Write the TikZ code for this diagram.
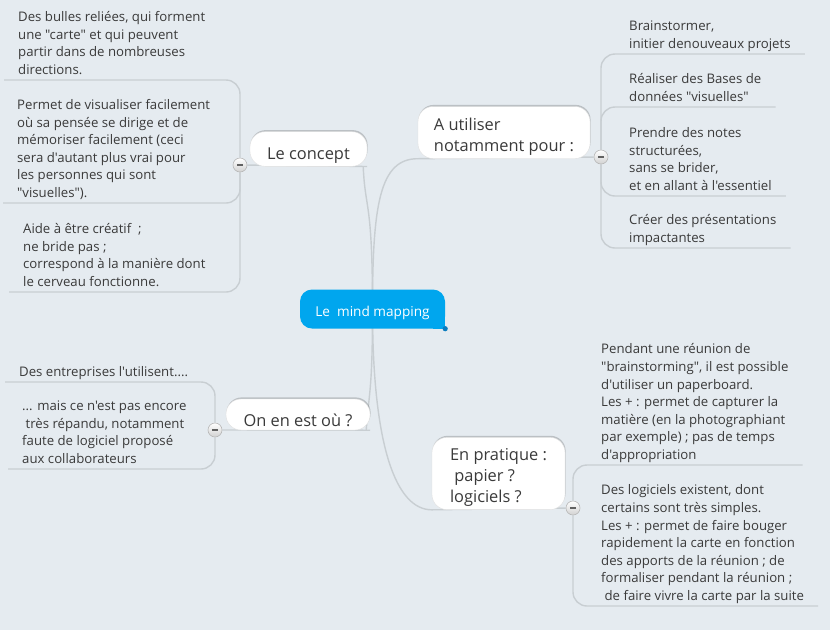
\documentclass[tikz,border=0pt]{standalone}
\usepackage{fontspec}
\setmainfont{Open Sans}[Ligatures=TeXOff]
\usetikzlibrary{backgrounds,shadows}

\definecolor{bgcol}{RGB}{229,235,240}
\definecolor{linkcol}{RGB}{200,206,210}
\definecolor{mmblue}{RGB}{0,166,238}
\definecolor{mmdot}{RGB}{10,124,190}
\definecolor{txtcol}{RGB}{58,58,58}

\newcommand\leaffont{\fontsize{13.2}{17.6}\selectfont}
\newcommand\topicfont{\fontsize{16.4}{20.8}\selectfont}
\newcommand\tpad[1]{\rule{0pt}{#1}}

\tikzset{
  link/.style={draw=linkcol, line width=1.4pt, rounded corners=14pt},
  leaf/.style={font=\leaffont, text=txtcol, align=left, inner xsep=14pt, inner ysep=0pt,
    anchor=south west, execute at end node=\strut},
  topic/.style={font=\topicfont, text=txtcol, fill=white, draw=black!12, rounded corners=15pt,
    drop shadow={shadow xshift=0.6pt, shadow yshift=1.6pt, opacity=0.18, fill=black}},
  collapse/.style={circle, minimum size=14pt, inner sep=0pt, draw=black!28, line width=0.6pt,
    top color=white, bottom color=black!18},
}
\newcommand\minus{\textcolor{black!62}{\rule{6pt}{1.9pt}}}

\begin{document}
\begin{tikzpicture}[x=1pt,y=1pt,yscale=-1,xscale=1]
\useasboundingbox (0,0) rectangle (830,630);

% central topic
\node[fill=mmblue, rounded corners=12pt, minimum width=145pt, minimum height=39pt, inner sep=0pt,
  font=\fontsize{13.6}{16}\selectfont, text=white] (mm) at (372.5,309) {\tpad{18.4pt}Le~ mind mapping};

% main topics
\node[topic, minimum width=117pt, minimum height=33pt] (concept) at (308.5,149) {\tpad{24pt}Le concept};
\node[topic, minimum width=172pt, minimum height=49pt, align=left] (ause) at (504,132.5) {\tpad{20.6pt}A utiliser\\notamment pour :};
\node[topic, minimum width=144pt, minimum height=31pt] (onest) at (298,414.5) {\tpad{24pt}On en est où ?};
\node[topic, minimum width=133pt, minimum height=69pt, align=left] (pratique) at (498.5,473.5) {\tpad{20pt}En pratique :\\\ papier ?\\logiciels ?};

% collapse buttons
\node[collapse] (colC) at (240,165) {\minus};
\node[collapse] (colA) at (601,157) {\minus};
\node[collapse] (colO) at (215,430) {\minus};
\node[collapse] (colP) at (573,508) {\minus};

% leaves: Le concept
\node[leaf] (cl1) at (4,80) {Des bulles reliées, qui forment\\une "carte" et qui peuvent\\partir dans de nombreuses\\directions.};
\node[leaf] (cl2) at (3,203) {Permet de visualiser facilement\\où sa pensée se dirige et de\\mémoriser facilement (ceci\\sera d'autant plus vrai pour\\les personnes qui sont\\"visuelles").};
\node[leaf] (cl3) at (9,292) {Aide à être créatif~ ;\\ne bride pas ;\\correspond à la manière dont\\le cerveau fonctionne.};

% leaves: A utiliser
\node[leaf] (al1) at (615,54) {Brainstormer,\\initier denouveaux projets};
\node[leaf] (al2) at (615,107) {Réaliser des Bases de\\données "visuelles"};
\node[leaf] (al3) at (615,196) {Prendre des notes\\structurées,\\sans se brider,\\et en allant à l'essentiel};
\node[leaf] (al4) at (615,248) {Créer des présentations\\impactantes};

% leaves: On en est ou
\node[leaf] (ol1) at (5,382) {Des entreprises l'utilisent....};
\node[leaf] (ol2) at (8,469) {... mais ce n'est pas encore\\\ très répandu, notamment\\faute de logiciel proposé\\aux collaborateurs};

% leaves: En pratique
\node[leaf] (pl1) at (587,465) {Pendant une réunion de\\"brainstorming", il est possible\\d'utiliser un paperboard.\\Les + : permet de capturer la\\matière (en la photographiant\\par exemple) ; pas de temps\\d'appropriation};
\node[leaf] (pl2) at (587,606) {Des logiciels existent, dont\\certains sont très simples.\\Les + : permet de faire bouger\\rapidement la carte en fonction\\des apports de la réunion ; de\\formaliser pendant la réunion ;\\\ de faire vivre la carte par la suite};

\begin{pgfonlayer}{background}
\fill[bgcol] (0,0) rectangle (830,630);
% links from the centre
\draw[link] (mm.center) .. controls +(0,-110) and +(2,45) .. ([xshift=-4pt]concept.south east);
\draw[link] (mm.center) .. controls +(0,-105) and +(-38,0) .. (ause.south west);
\draw[link] (mm.center) .. controls +(0,80) and +(3,-40) .. ([xshift=-4pt]onest.south east);
\draw[link] (mm.center) .. controls +(0,140) and +(-35,0) .. (pratique.south west);
% underlines of the topics
\draw[link] (colC) -- (concept.south east);
\draw[link] (colA) -- (ause.south west);
\draw[link] (colO) -- (onest.south east);
\draw[link] (colP) -- (pratique.south west);
% links to the leaves
\foreach \l in {cl1,cl2,cl3} \draw[link] (colC) |- (\l.south west);
\foreach \l in {al1,al2,al3,al4} \draw[link] (colA) |- (\l.south east);
\foreach \l in {ol1,ol2} \draw[link] (colO) |- (\l.south west);
\foreach \l in {pl1,pl2} \draw[link] (colP) |- (\l.south east);
% sharp corner and dot of the central topic
\fill[mmblue] (mm.south east) rectangle ++(-12,-12);
\end{pgfonlayer}
\fill[mmdot] (mm.south east) circle (2.6pt);

\end{tikzpicture}
\end{document}
